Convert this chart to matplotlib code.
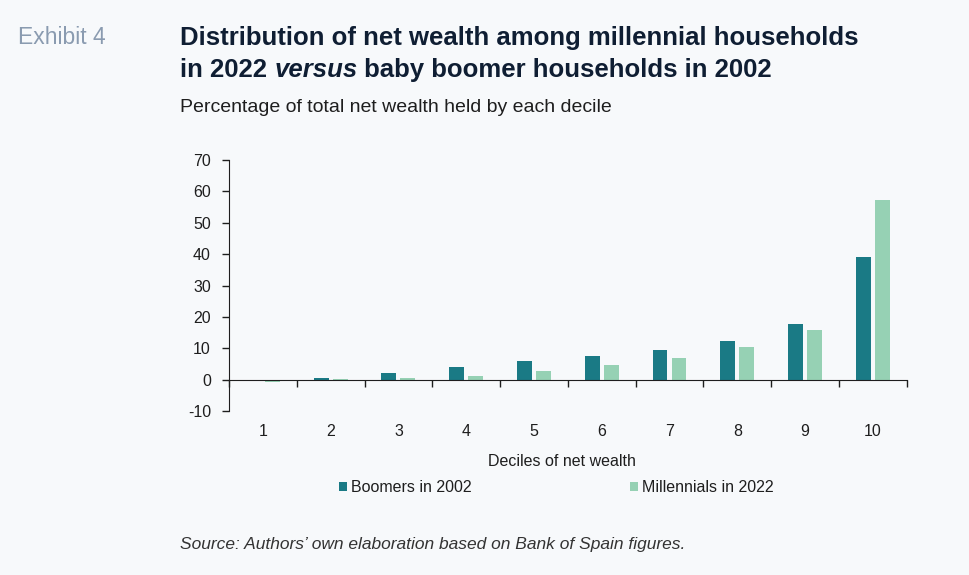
import numpy as np
import matplotlib.pyplot as plt

plt.rcParams['font.family'] = ['Liberation Sans', 'DejaVu Sans']
plt.rcParams['axes.unicode_minus'] = False

# datos
deciles = ['1', '2', '3', '4', '5', '6', '7', '8', '9', '10']
boomers_2002 = [0.0, 0.5, 2.1, 4.1, 6.0, 7.5, 9.6, 12.4, 17.7, 39.1]
millennials_2022 = [-0.7, 0.1, 0.5, 1.3, 2.8, 4.6, 6.9, 10.4, 15.7, 57.1]
y_ticks = [-10, 0, 10, 20, 30, 40, 50, 60, 70]

fondo = '#f7f9fb'
c_boom = '#1a7a85'
c_mill = '#96d1b4'
c_texto = '#1e1e1e'
c_titulo = '#0f1e33'

fig = plt.figure(figsize=(9.69, 5.75), dpi=100, facecolor=fondo)
ax = fig.add_axes([0.2363, 0.2852, 0.6994, 0.4365])
ax.set_facecolor(fondo)

x = np.arange(len(deciles))
w = 0.22
ax.bar(x - 0.14, boomers_2002, width=w, color=c_boom, label='Boomers in 2002')
ax.bar(x + 0.14, millennials_2022, width=w, color=c_mill, label='Millennials in 2022')

ax.set_xlim(-0.5, len(deciles) - 0.5)
ax.set_ylim(-10, 70)
ax.set_yticks(y_ticks)
ax.tick_params(axis='y', length=5, width=1, labelsize=11.5, pad=8, colors=c_texto)

# eje x en el cero, ticks en los limites de cada decil
ax.spines['bottom'].set_position(('data', 0))
ax.spines['top'].set_visible(False)
ax.spines['right'].set_visible(False)
ax.spines['left'].set_color(c_texto)
ax.spines['bottom'].set_color(c_texto)
ax.set_xticks(np.arange(-0.5, len(deciles), 1.0))
ax.set_xticklabels([])
ax.tick_params(axis='x', which='major', direction='out', length=5, width=1, colors=c_texto)
ax.set_xticks(x, minor=True)
ax.set_xticklabels(deciles, minor=True)
ax.tick_params(axis='x', which='minor', length=0, labelsize=11.5, pad=32, labelcolor=c_texto)

fig.text(562 / 969, 1 - 461 / 575, 'Deciles of net wealth', ha='center', va='center',
         fontsize=11.5, color=c_texto)

fig.legend(loc='center', bbox_to_anchor=(556 / 969, 1 - 488 / 575), ncol=2, frameon=False,
           fontsize=11.5, handlelength=0.5, handleheight=0.5, handletextpad=0.25,
           columnspacing=9.9, labelcolor=c_texto)

# titulos
fig.text(18 / 969, 1 - 38 / 575, 'Exhibit 4', fontsize=16.5, color='#8a9bb0', va='center')
fig.text(180 / 969, 1 - 38 / 575, 'Distribution of net wealth among millennial households',
         fontsize=18.5, fontweight='bold', color=c_titulo, va='center')

# segunda linea con "versus" en cursiva
r = fig.canvas.get_renderer()
partes = [('in 2022 ', 'normal'), ('versus', 'italic'), (' baby boomer households in 2002', 'normal')]
xpos = 180
for txt, estilo in partes:
    t = fig.text(xpos / 969, 1 - 70 / 575, txt, fontsize=18.5, fontweight='bold', style=estilo,
                 color=c_titulo, va='center')
    bb = t.get_window_extent(renderer=r)
    xpos = bb.x1

fig.text(180 / 969, 1 - 107 / 575, 'Percentage of total net wealth held by each decile',
         fontsize=14, color=c_texto, va='center')
fig.text(180 / 969, 1 - 545 / 575, 'Source: Authors\u2019 own elaboration based on Bank of Spain figures.',
         fontsize=12.5, style='italic', color='#333333', va='center')

fig.savefig('out.png', dpi=100, facecolor=fondo)
